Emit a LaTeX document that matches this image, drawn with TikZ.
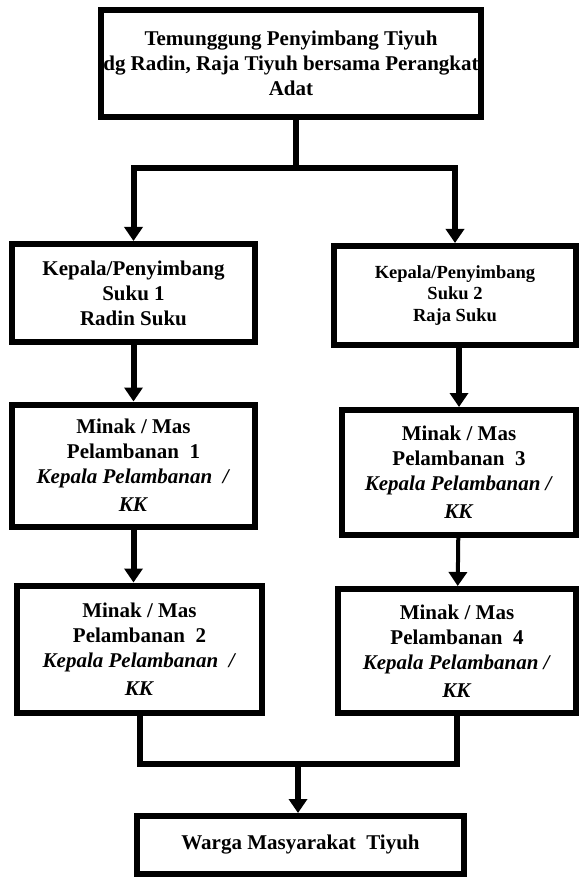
\documentclass[tikz,border=0pt]{standalone}
\usepackage{fontspec}
\setmainfont{Liberation Serif}
\usepackage{tikz}
\usetikzlibrary{arrows.meta}

\begin{document}
\begin{tikzpicture}[x=1pt,y=-1pt,line width=6pt,-{Triangle[width=18pt,length=14pt]}]
  \tikzstyle{box}=[draw,line width=6pt,align=center,inner sep=2pt,
    font=\bfseries\fontsize{21}{25}\selectfont]
  \useasboundingbox (0,0) rectangle (579,877);

  \node[box,minimum width=376pt,minimum height=107pt] (tiyuh) at (291,63.5)
    {Temunggung Penyimbang Tiyuh\\ dg Radin, Raja Tiyuh bersama Perangkat\\ Adat};
  \node[box,minimum width=243pt,minimum height=98pt] (suku1) at (133.5,293)
    {Kepala/Penyimbang\\ Suku 1\\ Radin Suku};
  \node[box,minimum width=242pt,minimum height=99pt,
    font=\bfseries\fontsize{18.5}{21.5}\selectfont] (suku2) at (455,295.5)
    {Kepala/Penyimbang\\ Suku 2\\ Raja Suku};
  \node[box,minimum width=243pt,minimum height=122pt] (pel1) at (133.5,465.5)
    {Minak / Mas\\ Pelambanan~~1\\ \textit{Kepala Pelambanan~~/}\\[3pt] \textit{KK}};
  \node[box,minimum width=245pt,minimum height=127pt] (pel2) at (139.5,649)
    {Minak / Mas\\ Pelambanan~~2\\ \textit{Kepala Pelambanan~~/}\\[3pt] \textit{KK}};
  \node[box,minimum width=234pt,minimum height=125pt] (pel3) at (459,472.5)
    {Minak / Mas\\ Pelambanan~~3\\ \textit{Kepala Pelambanan /}\\[3pt] \textit{KK}};
  \node[box,minimum width=238pt,minimum height=124pt] (pel4) at (457,651)
    {Minak / Mas\\ Pelambanan~~4\\ \textit{Kepala Pelambanan /}\\[3pt] \textit{KK}};
  \node[box,minimum width=327pt,minimum height=58pt] (warga) at (300.5,845)
    {Warga Masyarakat~~Tiyuh};

  % cabang dari temenggung
  \coordinate (bagi) at (296,168);
  \draw[-] (tiyuh.south -| bagi) -- (bagi);
  \draw (bagi) -| (suku1.north);
  \draw (bagi) -| (suku2.north);

  \draw (suku1) -- (pel1);
  \draw (pel1.south) -- (pel1.south |- pel2.north);
  \draw (suku2.south -| pel3.north) -- (pel3.north);
  \draw[line width=4pt] (pel3) -- (pel4);

  % gabung ke warga
  \coordinate (gabung) at (298,764);
  \draw[-] (pel2.south) |- (gabung) -| (pel4.south);
  \draw (gabung) -- (gabung |- warga.north);
\end{tikzpicture}
\end{document}
